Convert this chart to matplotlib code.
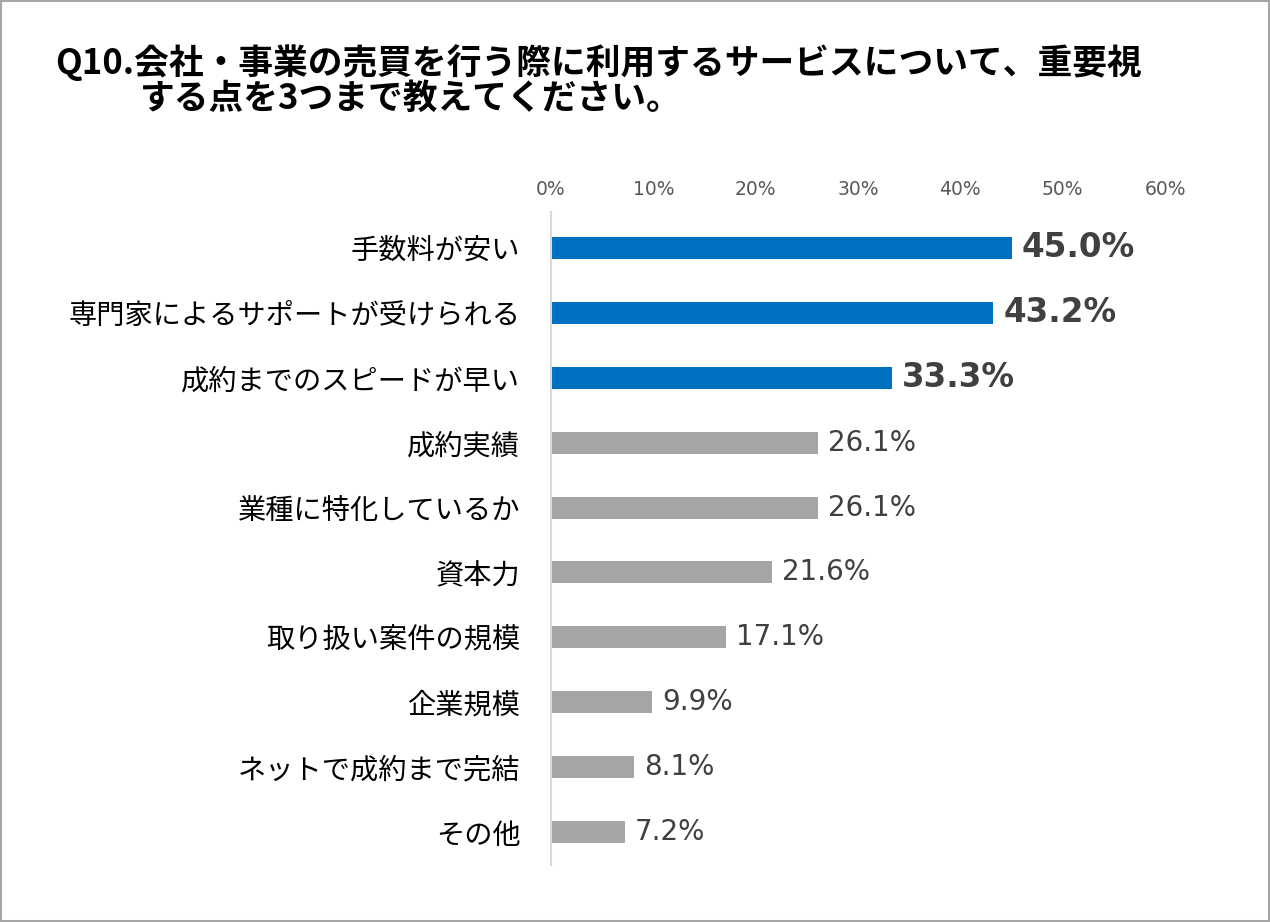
import matplotlib
matplotlib.use("Agg")
import matplotlib.pyplot as plt
from matplotlib.patches import Rectangle

plt.rcParams['font.family'] = ['Noto Sans CJK JP', 'DejaVu Sans']

# データ
categories = ['手数料が安い', '専門家によるサポートが受けられる', '成約までのスピードが早い',
              '成約実績', '業種に特化しているか', '資本力', '取り扱い案件の規模',
              '企業規模', 'ネットで成約まで完結', 'その他']
values = [45.0, 43.2, 33.3, 26.1, 26.1, 21.6, 17.1, 9.9, 8.1, 7.2]
top_n = 3
xticks = [0, 10, 20, 30, 40, 50, 60]

blue = '#0070C0'
gray = '#A5A5A5'
colors = [blue if i < top_n else gray for i in range(len(values))]

fig = plt.figure(figsize=(12.7, 9.22), dpi=100)
ax = fig.add_axes([551 / 1270, 57.5 / 922, (1165 - 551) / 1270, (864.5 - 215.5) / 922])

y = list(range(len(categories)))
ax.barh(y, values, height=0.34, color=colors)
ax.set_ylim(len(categories) - 0.5, -0.5)
ax.set_xlim(0, 60)

ax.set_yticks(y)
ax.set_yticklabels(categories, fontsize=20.3, color='#000000')
ax.tick_params(axis='y', length=0, pad=22)

ax.xaxis.tick_top()
ax.set_xticks(xticks)
ax.set_xticklabels([f'{t}%' for t in xticks], fontsize=13.5, color='#595959',
                   family='DejaVu Sans')
ax.tick_params(axis='x', length=0, pad=12)

for s in ['top', 'right', 'bottom']:
    ax.spines[s].set_visible(False)
ax.spines['left'].set_color('#D9D9D9')
ax.spines['left'].set_linewidth(1.5)
ax.spines['left'].set_bounds(-0.55, 9.5)

# ラベル
for i, v in enumerate(values):
    if i < top_n:
        ax.text(v + 1.0, i, f'{v:.1f}%', va='center', ha='left', fontsize=23.5,
                fontweight='bold', color='#404040', family='DejaVu Sans')
    else:
        ax.text(v + 1.0, i, f'{v:.1f}%', va='center', ha='left', fontsize=20,
                color='#404040', family='DejaVu Sans')

# タイトル
fig.text(55 / 1270, 1 - 63 / 922, 'Q10.会社・事業の売買を行う際に利用するサービスについて、重要視',
         fontsize=25, fontweight='bold', va='center', ha='left')
fig.text(140 / 1270, 1 - 98 / 922, 'する点を3つまで教えてください。',
         fontsize=25, fontweight='bold', va='center', ha='left')

fig.patches.append(Rectangle((0.001, 0.001), 0.998, 0.998, transform=fig.transFigure,
                             fill=False, edgecolor='#A6A6A6', linewidth=1.5))

fig.savefig('out.png', dpi=100)
